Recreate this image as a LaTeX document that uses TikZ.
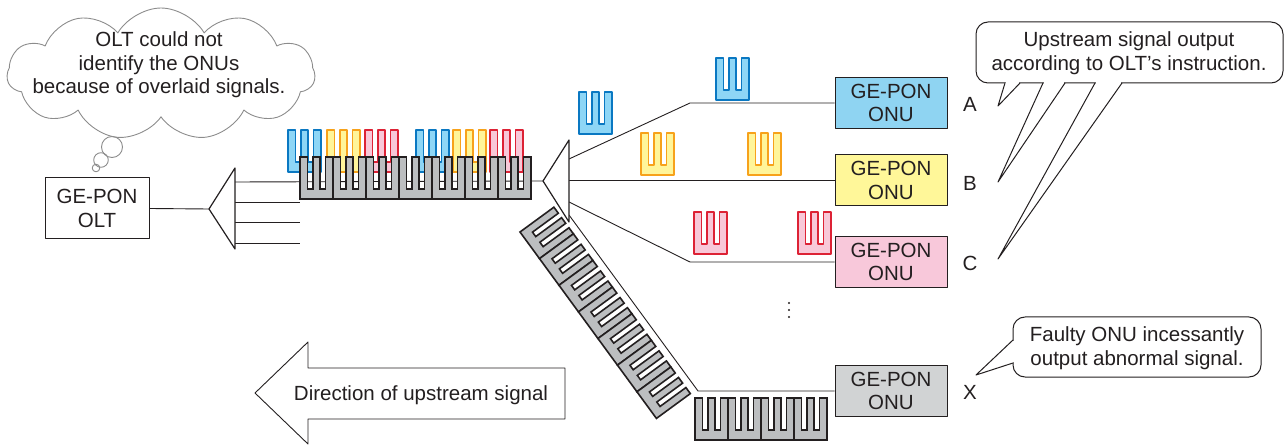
\documentclass[tikz,border=0pt]{standalone}
\usepackage{fontspec}
\setmainfont{Liberation Sans}
\usetikzlibrary{shapes.symbols}

\definecolor{ink}{HTML}{231F20}
\definecolor{cloudline}{HTML}{8C8C8C}
\definecolor{blueline}{HTML}{0A78C2}
\definecolor{bluefill}{HTML}{8ED6F6}
\definecolor{yellowline}{HTML}{F7A21B}
\definecolor{yellowfill}{HTML}{FFF59A}
\definecolor{redline}{HTML}{DD2235}
\definecolor{redfill}{HTML}{F8C8D8}
\definecolor{combfill}{HTML}{BCBEC0}
\definecolor{onuA}{HTML}{8FD4F2}
\definecolor{onuB}{HTML}{FFF799}
\definecolor{onuC}{HTML}{F8C8DA}
\definecolor{onuX}{HTML}{D1D3D4}

\tikzset{
  pics/comb/.style={code={
    \path[pic actions] (0,0) -- (33,0) -- (33,-42) -- (25.5,-42) -- (25.5,-10)
      -- (20,-10) -- (20,-42) -- (13,-42) -- (13,-10) -- (7.5,-10) -- (7.5,-42)
      -- (0,-42) -- cycle;
  }},
  graycomb/.style={draw=ink, fill=combfill, line width=1.6pt, line join=miter},
  bluepulse/.style={draw=blueline, fill=bluefill, line width=1.3pt},
  yellowpulse/.style={draw=yellowline, fill=yellowfill, line width=1.3pt},
  redpulse/.style={draw=redline, fill=redfill, line width=1.3pt},
  fiber/.style={draw=ink, line width=0.9pt},
  unitbox/.style={draw=ink, line width=1pt, minimum width=112pt, minimum height=51pt,
    inner sep=0pt, align=center, text=ink},
  letter/.style={text=ink, inner sep=0pt},
  bubble/.style={draw=ink, line width=1pt, fill=white},
  txt/.style={text=ink, align=center, inner sep=0pt},
}

\begin{document}
\begin{tikzpicture}[x=1pt, y=-1pt, line join=round,
  every node/.style={font=\fontsize{20.5}{23.5}\selectfont}]
\useasboundingbox (0,0) rectangle (1285,446);

% ---- thought cloud of the OLT ----
\node[cloud, cloud puffs=11, cloud puff arc=120, aspect=2.33,
  minimum width=308pt, minimum height=132pt, draw=cloudline, line width=0.9pt]
  (thought) at (161,74) {};
\node[txt] (thoughttext) at (159,65) {OLT could not\\identify the ONUs\\because of overlaid signals.};
\draw[cloudline, line width=0.9pt] (112,147) circle (10.5pt);
\draw[cloudline, line width=0.9pt] (101,160) circle (7.3pt);
\draw[cloudline, line width=0.9pt] (96,168) circle (3.8pt);

% ---- OLT and its splitter ----
\node[unitbox, minimum width=104pt, minimum height=61pt] (olt) at (97,208.5) {GE-PON\\OLT};
\coordinate (lsplit) at (209,209);
\draw[fiber] (olt.east) -- (lsplit);
\coordinate (rsplit) at (543,181);
\draw[fiber] (235,182) -- (rsplit);
\foreach \yy in {202,222,243} \draw[fiber] (235,\yy) -- (300,\yy);
\draw[draw=ink, fill=white, line width=1.2pt] (lsplit) -- (235,168) -- (235,249) -- cycle;

% ---- ONUs ----
\node[unitbox, fill=onuA] (onuA) at (891,103) {GE-PON\\ONU};
\node[unitbox, fill=onuB] (onuB) at (891,180.5) {GE-PON\\ONU};
\node[unitbox, fill=onuC] (onuC) at (891,262) {GE-PON\\ONU};
\node[unitbox, fill=onuX] (onuX) at (891,391) {GE-PON\\ONU};
\node[letter] (labA) at (970,104) {A};
\node[letter] (labB) at (970,183) {B};
\node[letter] (labC) at (970,263) {C};
\node[letter] (labX) at (970,392) {X};

% ---- branches from the ONU-side splitter ----
\coordinate (bendA) at (690,103);
\coordinate (bendC) at (690,262);
\coordinate (bendX) at (698,391);
\draw[fiber] (569,159) -- (bendA) -- (onuA.west);
\draw[fiber] (569,180.5) -- (onuB.west);
\draw[fiber] (569,202) -- (bendC) -- (onuC.west);
\draw[fiber] (569,215) -- (bendX) -- (onuX.west);
\draw[draw=ink, fill=white, line width=1.2pt] (rsplit) -- (569,140) -- (569,222) -- cycle;

% ---- normal upstream bursts on the branches ----
\pic[bluepulse] at (579,134) {comb};
\pic[bluepulse] at (716,100) {comb};
\pic[yellowpulse] at (641,175) {comb};
\pic[yellowpulse] at (748,175) {comb};
\pic[redpulse] at (694,254) {comb};
\pic[redpulse] at (798,254) {comb};

% ---- overlaid signals on the trunk fiber ----
\foreach \xx/\sty in {288/bluepulse, 327/yellowpulse, 365/redpulse,
                      416/bluepulse, 453/yellowpulse, 490/redpulse}
  \pic[\sty] at (\xx,172) {comb};
\foreach \k in {0,...,6}
  \pic[graycomb] at ({300+\k*33},199) {comb};

% ---- abnormal signal of the faulty ONU ----
\foreach \k in {0,...,6}
  \pic[graycomb, rotate=-53.8] at ({520+\k*33*0.5906},{232+\k*33*0.8070}) {comb};
\foreach \k in {0,...,3}
  \pic[graycomb] at ({695+\k*33},440) {comb};

% ---- continuation dots ----
\foreach \yy in {303,310,317} \fill[ink] (789,\yy) circle (1.2pt);

% ---- callout: normal ONUs ----
\draw[bubble, rounded corners=12pt] (976,22) rectangle (1283,83);
\fill[white] (1005.8,81) rectangle (1019.2,85);
\fill[white] (1043.8,81) rectangle (1064.2,85);
\fill[white] (1095.8,81) rectangle (1121.2,85);
\draw[draw=ink, line width=1pt, fill=white] (1005,83) -- (998,106) -- (1020,83);
\draw[draw=ink, line width=1pt] (1043,83) -- (998,182) -- (1065,83);
\draw[draw=ink, line width=1pt] (1095,83) -- (998,259) -- (1122,83);
\node[txt] (normaltext) at (1129,53) {Upstream signal output\\according to OLT’s instruction.};

% ---- callout: faulty ONU ----
\draw[bubble, rounded corners=12pt] (1013,317) rectangle (1261,377);
\fill[white] (1011,340.8) rectangle (1015,362.2);
\draw[draw=ink, line width=1pt, fill=white] (1013,340) -- (976,375) -- (1013,363);
\node[txt] (faultytext) at (1137,348) {Faulty ONU incessantly\\output abnormal signal.};

% ---- direction arrow ----
\draw[draw=ink, line width=0.9pt, fill=white] (255,393) -- (308,342) -- (308,368)
  -- (565,368) -- (565,419) -- (308,419) -- (308,444) -- cycle;
\node[txt] (dirtext) at (421,395) {Direction of upstream signal};
\end{tikzpicture}
\end{document}
